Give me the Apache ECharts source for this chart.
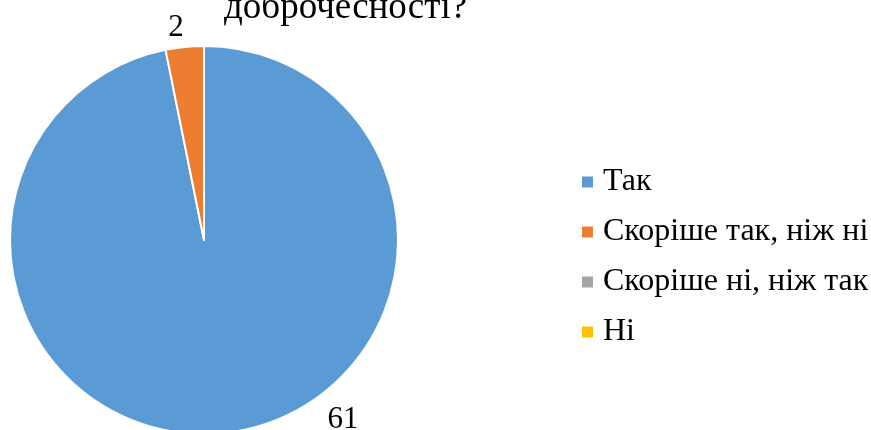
<!DOCTYPE html>
<html><head><meta charset="utf-8">
<script src="https://cdn.jsdelivr.net/npm/echarts@6/dist/echarts.min.js"></script>
<style>html,body{margin:0;padding:0;background:#fff}#c{width:871px;height:430px}</style>
</head><body><div id="c"></div>
<script>
const categories = ['Так', 'Скоріше так, ніж ні', 'Скоріше ні, ніж так', 'Ні'];
const values = [61, 2, 0, 0];
const colors = ['#5B9BD5', '#ED7D31', '#A5A5A5', '#FFC000'];
const titleText = 'доброчесності?';

const chart = echarts.init(document.getElementById('c'), null, {renderer: 'canvas'});
const font = 'Liberation Serif';
chart.setOption({
  animation: false,
  color: colors,
  title: {
    text: titleText, left: 219, top: -15,
    textStyle: {fontFamily: font, fontSize: 37, fontWeight: 'normal', color: '#000'}
  },
  legend: {
    orient: 'vertical', left: 582, top: 166, padding: 0, itemWidth: 11, itemHeight: 11, itemGap: 18,
    icon: 'rect',
    itemStyle: {borderWidth: 0, borderColor: 'rgba(0,0,0,0)'},
    textStyle: {fontFamily: font, fontSize: 32, color: '#000', padding: [0, 0, 0, 5]},
    data: categories
  },
  series: [{
    type: 'pie', center: [204, 240], radius: 194, startAngle: 90, clockwise: true,
    itemStyle: {borderColor: '#fff', borderWidth: 2},
    label: {
      show: true, position: 'outside', fontFamily: font, fontSize: 31, color: '#000',
      formatter: p => p.value > 0 ? String(p.value) : ''
    },
    labelLine: {show: false, length: 4, length2: 0},
    labelLayout: function (p) {
      if (p.dataIndex === 0) return {x: 343, y: 420, align: 'center', verticalAlign: 'middle'};
      if (p.dataIndex === 1) return {x: 176, y: 28, align: 'center', verticalAlign: 'middle'};
      return {};
    },
    emphasis: {disabled: true},
    data: categories.map((n, i) => ({name: n, value: values[i]}))
  }]
});
</script></body></html>
